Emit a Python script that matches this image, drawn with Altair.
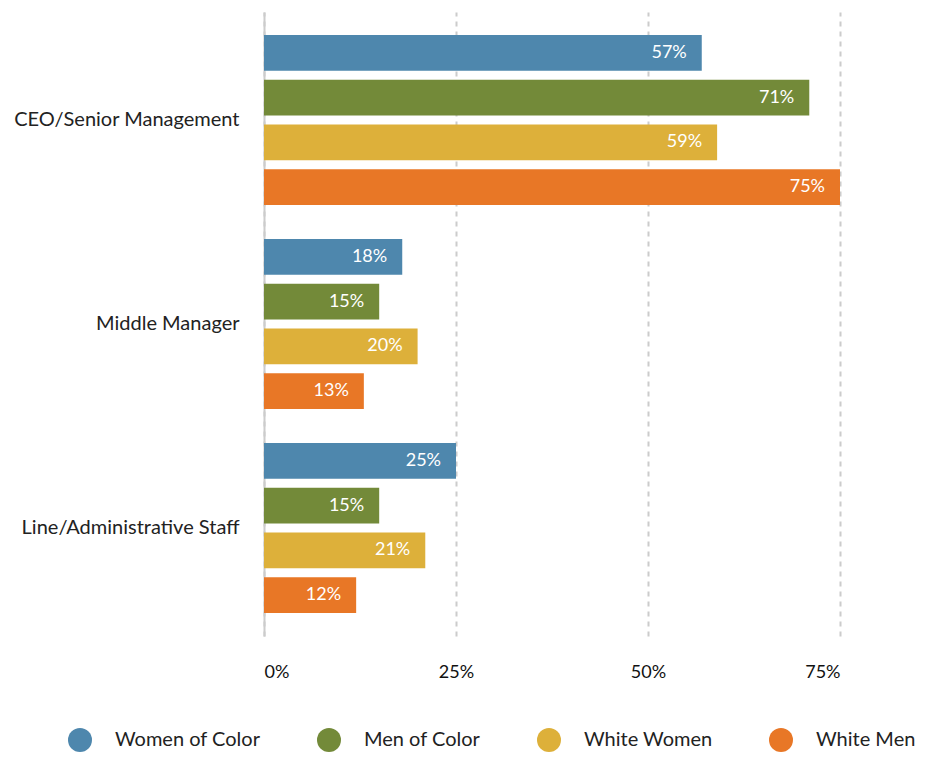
import altair as alt
import pandas as pd

levels = ["CEO/Senior Management", "Middle Manager", "Line/Administrative Staff"]
groups = ["Women of Color", "Men of Color", "White Women", "White Men"]
colors = ["#4E87AD", "#738A39", "#DDB03A", "#E87726"]
ceo = [57, 71, 59, 75]
middle = [18, 15, 20, 13]
line_staff = [25, 15, 21, 12]
ticks = [0, 25, 50, 75]

rows = []
for lvl, vals in zip(levels, [ceo, middle, line_staff]):
    for g, v in zip(groups, vals):
        rows.append({"level": lvl, "group": g, "value": v, "label": f"{v}%"})
df = pd.DataFrame(rows)

FONT = "Lato"

base = alt.Chart(df).encode(
    y=alt.Y(
        "level:N",
        sort=levels,
        title=None,
        scale=alt.Scale(paddingInner=0.167, paddingOuter=0.113),
        axis=alt.Axis(
            ticks=False,
            domain=True,
            domainColor="#cccccc",
            domainWidth=2,
            labelFont=FONT,
            labelFontSize=20,
            labelColor="#222222",
            labelPadding=25,
            labelLimit=400,
        ),
    ),
    yOffset=alt.YOffset(
        "group:N", sort=groups, scale=alt.Scale(paddingInner=0.2, paddingOuter=0)
    ),
    x=alt.X(
        "value:Q",
        title=None,
        scale=alt.Scale(domain=[0, 75], nice=False),
        axis=alt.Axis(
            values=ticks,
            labelExpr="datum.value + '%'",
            ticks=False,
            domain=False,
            grid=True,
            gridColor="#cccccc",
            gridWidth=2,
            gridDash=[5, 5],
            labelFont=FONT,
            labelFontSize=18,
            labelColor="#111111",
            labelPadding=27,
        ),
    ),
)

bars = base.mark_bar().encode(
    color=alt.Color(
        "group:N",
        sort=groups,
        scale=alt.Scale(domain=groups, range=colors),
        legend=alt.Legend(
            title=None,
            orient="none",
            legendX=-196,
            legendY=716,
            direction="horizontal",
            symbolType="circle",
            symbolSize=576,
            symbolStrokeWidth=0,
            labelFont=FONT,
            labelFontSize=20,
            labelColor="#222222",
            labelOffset=23,
            columnPadding=56,
            padding=0,
            labelLimit=300,
        ),
    )
)

text = base.mark_text(
    align="right", baseline="middle", dx=-15, color="white", font=FONT, fontSize=18
).encode(text="label:N")

chart = (
    alt.layer(bars, text)
    .properties(
        width=576,
        height=624,
        autosize=alt.AutoSizeParams(type="none"),
        padding={"left": 256, "top": 4, "right": 79, "bottom": 118},
    )
    .configure_view(stroke=None)
)

chart.save("out.html", embed_options={"renderer": "svg", "actions": False})
